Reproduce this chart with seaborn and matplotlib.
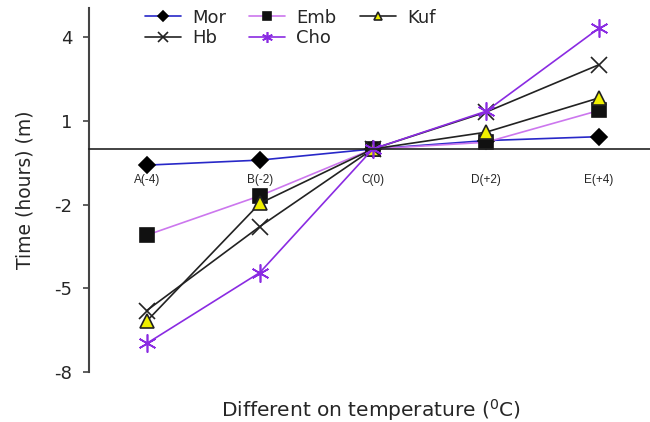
import numpy as np
import matplotlib
matplotlib.use("Agg")
import matplotlib.pyplot as plt
import seaborn as sns

# data
categories = ["A(-4)", "B(-2)", "C(0)", "D(+2)", "E(+4)"]
mor = [-0.58, -0.40, 0.0, 0.30, 0.44]
emb = [-3.09, -1.68, 0.0, 0.24, 1.38]
kuf = [-6.17, -1.95, 0.0, 0.60, 1.83]
hb = [-5.79, -2.78, 0.0, 1.32, 3.02]
cho = [-6.97, -4.43, 0.0, 1.35, 4.33]
y_ticks = [-8, -5, -2, 1, 4]

sns.set_style("white")
plt.rcParams["font.family"] = ["DejaVu Sans"]
plt.rcParams["axes.unicode_minus"] = False

fig = plt.figure(figsize=(6.5, 4.22), dpi=100)
ax = fig.add_axes([0.137, 0.118, 0.863, 0.863])

x = np.arange(len(categories))

styles = {
    "Mor": dict(y=mor, color="#2828c8", marker="D", ms=8.5, mfc="black", mec="black"),
    "Emb": dict(y=emb, color="#cc77ee", marker="s", ms=10, mfc="#111111", mec="#111111"),
    "Kuf": dict(y=kuf, color="#222222", marker="^", ms=10, mfc="#f0f000", mec="#222222"),
    "Hb": dict(y=hb, color="#222222", marker="x", ms=11, mfc="#222222", mec="#222222"),
    "Cho": dict(y=cho, color="#8a2be2", marker=(6, 2, 0), ms=13, mfc="#8a2be2", mec="#8a2be2"),
}

handles = {}
for name in ["Mor", "Emb", "Kuf", "Hb", "Cho"]:
    s = styles[name]
    sns.lineplot(x=x, y=s["y"], color=s["color"], marker=s["marker"],
                 markersize=s["ms"], markerfacecolor=s["mfc"],
                 markeredgecolor=s["mec"], markeredgewidth=1.2,
                 linewidth=1.2, label=name, ax=ax, legend=False)
    handles[name] = ax.lines[-1]

ax.set_xlim(-0.51, 4.45)
ax.set_ylim(-8, 5.05)

# x axis drawn along y = 0
ax.spines["bottom"].set_position(("data", 0))
ax.spines["top"].set_visible(False)
ax.spines["right"].set_visible(False)
ax.spines["bottom"].set_color("#222222")
ax.spines["bottom"].set_linewidth(1.2)
ax.spines["left"].set_color("#444444")
ax.spines["left"].set_linewidth(1.5)

ax.set_xticks(x)
ax.set_xticklabels(categories, fontsize=8.5, family="Liberation Sans")
ax.set_xticks(x[:-1] + 0.5, minor=True)
ax.tick_params(axis="x", which="major", length=0, pad=18)
ax.tick_params(axis="x", which="minor", direction="in", length=4, width=1, color="#444444")

ax.set_yticks(y_ticks)
ax.tick_params(axis="y", which="major", direction="out", length=4, width=1.2,
               color="#444444", labelsize=13, pad=8, left=True)

ax.set_ylabel("Time (hours) (m)", fontsize=13.5, labelpad=14)
fig.text(0.571, 0.028, "Different on temperature ($^{0}$C)", fontsize=14.5,
         ha="center", va="center")

order = ["Mor", "Hb", "Emb", "Cho", "Kuf"]
ax.legend([handles[n] for n in order], order, ncol=3, frameon=False,
          fontsize=13, markerscale=0.6, handlelength=2.0, handletextpad=0.6,
          columnspacing=1.3, labelspacing=0.15,
          loc="upper left", bbox_to_anchor=(0.198, 1.018), bbox_transform=fig.transFigure)

fig.savefig("out.png", dpi=100)
